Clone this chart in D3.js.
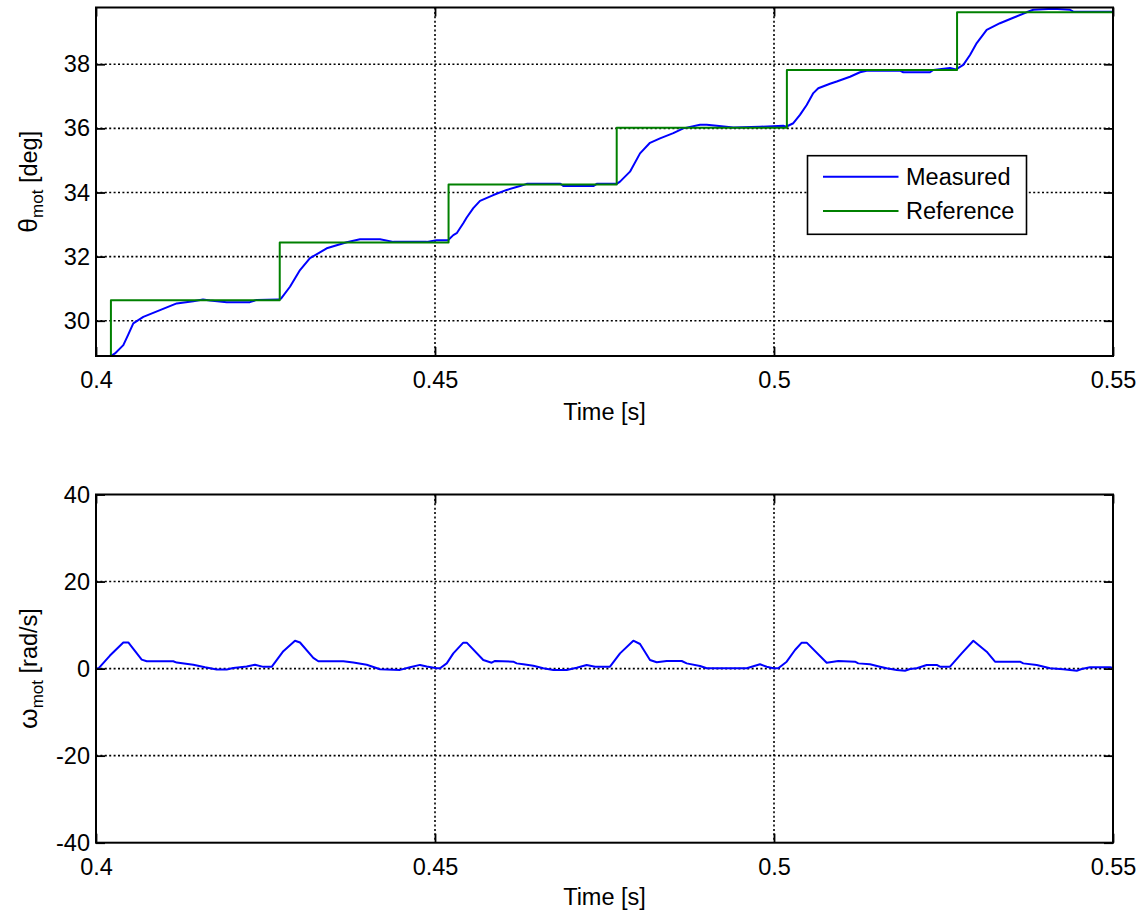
<!DOCTYPE html>
<html><head><meta charset="utf-8">
<script src="https://cdn.jsdelivr.net/npm/d3@7"></script>
<style>
html,body{margin:0;padding:0;background:#fff;}
svg{display:block;font-family:"Liberation Sans",Arial,Helvetica,sans-serif;}
</style></head><body>
<svg id="chart" width="1142" height="911"></svg>
<script>
// ---- data ----
const measT = [0.4000,0.40217,0.40280,0.40403,0.40472,0.40550,0.40698,0.40944,0.41190,0.41435,0.41578,0.41681,0.41928,0.42271,0.42370,0.42689,0.42729,
  0.42861,0.43009,0.43156,0.43403,0.43698,0.43894,0.44189,0.44385,0.44878,0.45025,0.45192,
  0.45270,0.45320,0.45417,0.45468,0.45565,0.45664,0.45860,0.46058,0.46254,0.46353,0.46850,0.46892,0.47335,0.47385,0.47680,
  0.47729,0.47876,0.48024,0.48171,0.48319,0.48515,0.48662,0.48909,0.49007,0.49155,0.49400,0.49794,0.50137,0.50177,
  0.50285,0.50383,0.50482,0.50580,0.50653,0.50826,0.50925,0.51121,0.51268,0.51367,0.51858,0.51907,0.52301,0.52349,0.52596,0.52684,
  0.52792,0.52891,0.52990,0.53137,0.53333,0.53529,0.53726,0.53825,0.54119,0.54366,0.54414,0.5500];
const measTheta = [28.90,28.90,28.98,29.24,29.55,29.92,30.12,30.33,30.54,30.61,30.66,30.63,30.58,30.58,30.65,30.66,30.69,
  31.06,31.58,31.95,32.26,32.45,32.54,32.54,32.46,32.46,32.51,32.51,
  32.67,32.73,33.04,33.22,33.51,33.74,33.92,34.08,34.20,34.27,34.27,34.20,34.20,34.27,34.27,
  34.34,34.65,35.22,35.55,35.69,35.85,36.00,36.11,36.11,36.08,36.03,36.05,36.08,36.05,
  36.16,36.42,36.73,37.10,37.25,37.39,37.46,37.61,37.75,37.80,37.80,37.75,37.75,37.82,37.88,37.84,
  37.98,38.29,38.66,39.07,39.28,39.45,39.62,39.70,39.73,39.70,39.64,39.64];

const refT = [0.4000,0.4022,0.4271,0.4520,0.4768,0.5019,0.5270,0.5500];
const refTheta = [28.90,30.64,32.44,34.25,36.02,37.82,39.62,39.62];

const omegaT = [0.4000,0.40034,0.40206,0.40403,0.40476,0.40674,0.40748,0.41140,0.41190,0.41435,0.41608,0.41780,0.41928,0.42025,0.42223,0.42345,0.42468,0.42591,
  0.42763,0.42935,0.43009,0.43205,0.43279,0.43648,0.43795,0.43993,0.44189,0.44484,0.44631,0.44779,0.44878,0.45025,0.45074,
  0.45173,0.45270,0.45417,0.45468,0.45712,0.45836,0.45885,0.46155,0.46205,0.46302,0.46450,0.46597,0.46745,0.46942,0.47090,0.47237,0.47360,0.47581,
  0.47729,0.47925,0.48024,0.48171,0.48270,0.48417,0.48639,0.48712,0.48909,0.49007,0.49597,0.49794,0.49892,0.49990,0.50063,
  0.50187,0.50310,0.50409,0.50482,0.50777,0.50948,0.51195,0.51243,0.51416,0.51563,0.51662,0.51810,0.51932,0.52006,0.52105,0.52252,0.52400,0.52448,0.52596,
  0.52768,0.52940,0.53137,0.53260,0.53628,0.53677,0.53875,0.54071,0.54267,0.54465,0.54538,0.54661,0.54956,0.5500];
const omegaV = [0,0,3.0,6.0,6.0,2.06,1.68,1.68,1.38,0.9,0.3,-0.2,-0.2,0.15,0.5,0.9,0.4,0.4,
  4.0,6.4,6.0,2.45,1.68,1.68,1.38,0.9,-0.15,-0.3,0.3,0.85,0.5,0.07,0.07,
  1.2,3.5,5.96,5.96,1.98,1.36,1.75,1.59,1.2,0.99,0.67,0.07,-0.32,-0.32,0.21,0.83,0.44,0.44,
  3.5,6.41,5.65,1.98,1.45,1.75,1.75,1.2,0.6,0.07,0.07,0.99,0.44,0.07,0.07,
  1.59,4.27,5.96,5.96,1.36,1.75,1.59,1.2,0.99,0.44,0.07,-0.32,-0.48,-0.1,0.07,0.83,0.83,0.44,0.44,
  3.5,6.41,3.88,1.59,1.59,1.2,0.83,0.07,-0.16,-0.48,-0.1,0.3,0.3,0.1];

const timeTicks = [0.4,0.45,0.5,0.55];
const thetaTicks = [30,32,34,36,38];
const omegaTicks = [-40,-20,0,20,40];
const thetaDomain = [28.90,39.77];
const omegaDomain = [-40,40];
const timeDomain = [0.4,0.55];
const legendLabels = ["Measured","Reference"];
const xLabel = "Time [s]";

// ---- layout ----
const svg = d3.select("#chart");
const L = 96, R = 1113;
const FS = 23.5;
const x = d3.scaleLinear().domain(timeDomain).range([L, R]);
const fmt = d => String(d);

function panel(cfg){
  const y = d3.scaleLinear().domain(cfg.yDomain).range([cfg.bottom, cfg.top]);
  const g = svg.append("g");
  const clipId = "clip" + cfg.id;
  svg.append("clipPath").attr("id", clipId).append("rect")
    .attr("x", L).attr("y", cfg.top).attr("width", R - L).attr("height", cfg.bottom - cfg.top);

  // grid
  const grid = g.append("g").attr("stroke", "#000").attr("stroke-width", 1.6).attr("stroke-dasharray", "2,2.4");
  grid.selectAll(".gx").data(timeTicks.filter(t => t > timeDomain[0] && t < timeDomain[1])).join("line")
    .attr("x1", d => x(d)).attr("x2", d => x(d)).attr("y1", cfg.top).attr("y2", cfg.bottom);
  grid.selectAll(".gy").data(cfg.yTicks.filter(v => y(v) > cfg.top + 1 && y(v) < cfg.bottom - 1)).join("line")
    .attr("y1", d => y(d)).attr("y2", d => y(d)).attr("x1", L).attr("x2", R);

  // series
  const lines = g.append("g").attr("clip-path", `url(#${clipId})`);
  cfg.series.forEach(s => {
    const pts = s.t.map((t, i) => [t, s.v[i]]);
    lines.append("path").datum(pts)
      .attr("fill", "none").attr("stroke", s.color).attr("stroke-width", 2)
      .attr("stroke-linejoin", "round")
      .attr("d", d3.line().x(d => x(d[0])).y(d => y(d[1])).curve(s.curve || d3.curveLinear));
  });

  // axes
  const axB = g.append("g").attr("transform", `translate(0,${cfg.bottom})`)
    .call(d3.axisBottom(x).tickValues(timeTicks).tickFormat(fmt).tickSizeInner(-9).tickSizeOuter(0).tickPadding(15.5));
  const axT = g.append("g").attr("transform", `translate(0,${cfg.top})`)
    .call(d3.axisTop(x).tickValues(timeTicks).tickFormat("").tickSizeInner(-9).tickSizeOuter(0));
  const axL = g.append("g").attr("transform", `translate(${L},0)`)
    .call(d3.axisLeft(y).tickValues(cfg.yTicks).tickFormat(fmt).tickSizeInner(-9).tickSizeOuter(0).tickPadding(6));
  const axR = g.append("g").attr("transform", `translate(${R},0)`)
    .call(d3.axisRight(y).tickValues(cfg.yTicks).tickFormat("").tickSizeInner(-9).tickSizeOuter(0));
  [axB, axT, axL, axR].forEach(a => {
    a.select(".domain").remove();
    a.selectAll(".tick line").attr("stroke", "#000").attr("stroke-width", 1.8);
    a.selectAll("text").attr("font-size", FS).attr("fill", "#000")
      .attr("font-family", '"Liberation Sans",Arial,sans-serif');
  });

  // box
  g.append("rect").attr("x", L).attr("y", cfg.top).attr("width", R - L).attr("height", cfg.bottom - cfg.top)
    .attr("fill", "none").attr("stroke", "#000").attr("stroke-width", 2);

  // x label
  g.append("text").attr("x", (L + R) / 2).attr("y", cfg.bottom + cfg.xLabelOffset)
    .attr("text-anchor", "middle").attr("font-size", FS).text(xLabel);

  // y label
  const cy = (cfg.top + cfg.bottom) / 2;
  const yl = g.append("text").attr("transform", `translate(37,${cy}) rotate(-90)`)
    .attr("text-anchor", "middle").attr("font-size", FS);
  yl.append("tspan").attr("font-size", FS + 3).text(cfg.yMain);
  yl.append("tspan").attr("font-size", 17).attr("dy", 6).text("mot");
  yl.append("tspan").attr("dy", -6).text(" " + cfg.yUnit);

  return {y, g};
}

const p1 = panel({id: 1, top: 7.5, bottom: 356, yDomain: thetaDomain, yTicks: thetaTicks,
  series: [
    {t: measT, v: measTheta, color: "#0000ff"},
    {t: refT, v: refTheta, color: "#008000", curve: d3.curveStepAfter}
  ],
  yMain: "θ", yUnit: "[deg]", xLabelOffset: 64});

const p2 = panel({id: 2, top: 494.5, bottom: 842.7, yDomain: omegaDomain, yTicks: omegaTicks,
  series: [{t: omegaT, v: omegaV, color: "#0000ff"}],
  yMain: "ω", yUnit: "[rad/s]", xLabelOffset: 62});

// legend
const lg = p1.g.append("g");
const lx = 807.5, ly = 155.7, lw = 219, lh = 78.6;
lg.append("rect").attr("x", lx).attr("y", ly).attr("width", lw).attr("height", lh)
  .attr("fill", "#fff").attr("stroke", "#000").attr("stroke-width", 1.6);
const legColors = ["#0000ff", "#008000"];
const rowY = d3.scalePoint().domain(legendLabels).range([ly + 21, ly + 55.3]);
legendLabels.forEach((lab, i) => {
  lg.append("line").attr("x1", lx + 15.5).attr("x2", lx + 91).attr("y1", rowY(lab)).attr("y2", rowY(lab))
    .attr("stroke", legColors[i]).attr("stroke-width", 2);
  lg.append("text").attr("x", lx + 98.5).attr("y", rowY(lab)).attr("dy", "0.35em")
    .attr("font-size", FS).text(lab);
});
</script>
</body></html>
